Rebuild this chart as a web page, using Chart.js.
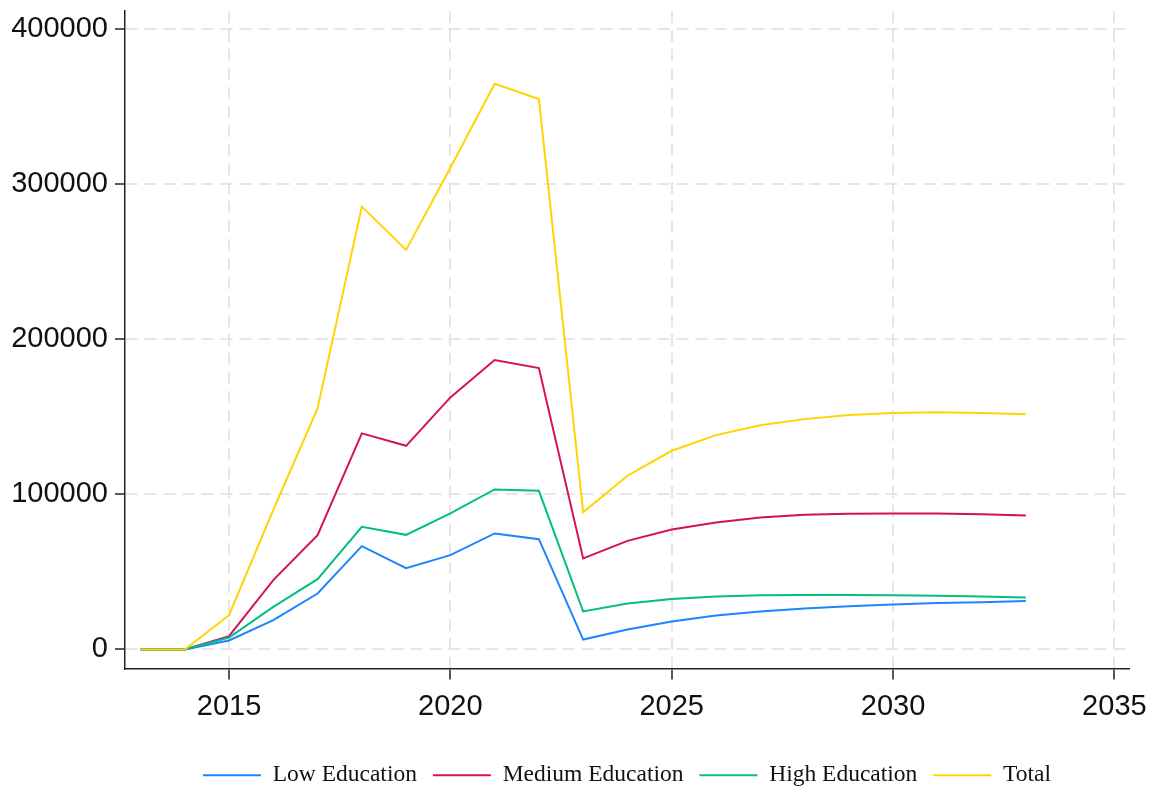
<!DOCTYPE html>
<html lang="en">
<head>
    <meta charset="UTF-8">
    <title>Education projections</title>
    <script src="https://cdn.jsdelivr.net/npm/chart.js"></script>
    <style>
        html, body { margin: 0; padding: 0; background: #fff; }
        #wrap { width: 1157px; height: 792px; }
    </style>
</head>
<body>
    <div id="wrap"><canvas id="myChart" width="1157" height="792"></canvas></div>

    <script>
        // years and series
        const years = [2013, 2014, 2015, 2016, 2017, 2018, 2019, 2020, 2021, 2022, 2023,
                       2024, 2025, 2026, 2027, 2028, 2029, 2030, 2031, 2032, 2033];
        const lowEdu = [0, 0, 5800, 18900, 36100, 66600, 52400, 60800, 74800, 71100, 6400,
                        12900, 18100, 21900, 24500, 26400, 27900, 29000, 29900, 30500, 31200];
        const medEdu = [0, 0, 8600, 44700, 73700, 139300, 131300, 162500, 186600, 181400, 58700,
                        70000, 77400, 81900, 85100, 86800, 87500, 87700, 87600, 87100, 86400];
        const highEdu = [0, 0, 7700, 27500, 45300, 79100, 73900, 87700, 103200, 102300, 24500,
                         29700, 32600, 34200, 35000, 35200, 35200, 35000, 34600, 34200, 33500];
        const total = [0, 0, 22100, 90000, 155400, 285500, 257600, 310500, 364700, 354800, 88400,
                       112000, 128100, 138200, 144500, 148500, 151100, 152400, 152900, 152400, 151600];

        const xTicks = [2015, 2020, 2025, 2030, 2035];
        const yTicks = [0, 100000, 200000, 300000, 400000];

        const labels = ['Low Education', 'Medium Education', 'High Education', 'Total'];
        const colors = ['#1a85ff', '#d41159', '#00bf7f', '#ffd400'];
        const series = [lowEdu, medEdu, highEdu, total];

        const toPoints = (arr) => arr.map((v, i) => ({ x: years[i], y: v }));

        // later series sit on top, like the reference
        const datasets = series.map((s, i) => ({
            label: labels[i],
            data: toPoints(s),
            borderColor: colors[i],
            backgroundColor: colors[i],
            borderWidth: 2,
            pointRadius: 0,
            tension: 0,
            order: series.length - i
        }));

        const tickFont = { family: 'Liberation Sans, Arial, sans-serif', size: 29 };

        const ctx = document.querySelector('#myChart').getContext('2d');
        new Chart(ctx, {
            type: 'line',
            data: { datasets: datasets },
            options: {
                responsive: false,
                animation: false,
                // negative bottom pulls the legend down to where the reference has it
                layout: { padding: { top: 11, right: 25, left: 0, bottom: -5 } },
                plugins: {
                    tooltip: { enabled: false },
                    legend: {
                        position: 'bottom',
                        fullSize: false,
                        labels: {
                            usePointStyle: true,
                            pointStyle: 'line',
                            pointStyleWidth: 58,
                            padding: 16,
                            color: '#111',
                            font: { family: 'Liberation Serif, Times New Roman, serif', size: 23.5 },
                            sort: (a, b) => a.datasetIndex - b.datasetIndex
                        }
                    }
                },
                scales: {
                    x: {
                        type: 'linear',
                        min: 2012.65,
                        max: 2035.33,
                        afterFit: (scale) => { scale.height = 79; },
                        afterBuildTicks: (scale) => { scale.ticks = xTicks.map(v => ({ value: v })); },
                        ticks: {
                            color: '#111',
                            font: tickFont,
                            padding: 10,
                            maxRotation: 0,
                            callback: (v) => String(v)
                        },
                        grid: { color: '#e6e6e6', lineWidth: 2, tickColor: '#222', tickLength: 11, tickWidth: 1.5 },
                        border: { color: '#222', width: 1.5, dash: [12, 7] }
                    },
                    y: {
                        min: -12260,
                        max: 411600,
                        afterFit: (scale) => {
                            scale.width = 125;
                            scale.paddingTop = 0;
                            scale.paddingBottom = 0;
                        },
                        afterBuildTicks: (scale) => { scale.ticks = yTicks.map(v => ({ value: v })); },
                        ticks: {
                            color: '#111',
                            font: tickFont,
                            padding: 7,
                            callback: (v) => String(v)
                        },
                        grid: { color: '#e6e6e6', lineWidth: 2, tickColor: '#222', tickLength: 10, tickWidth: 1.5 },
                        border: { color: '#222', width: 1.5, dash: [12, 7] }
                    }
                }
            }
        });
    </script>
</body>
</html>
